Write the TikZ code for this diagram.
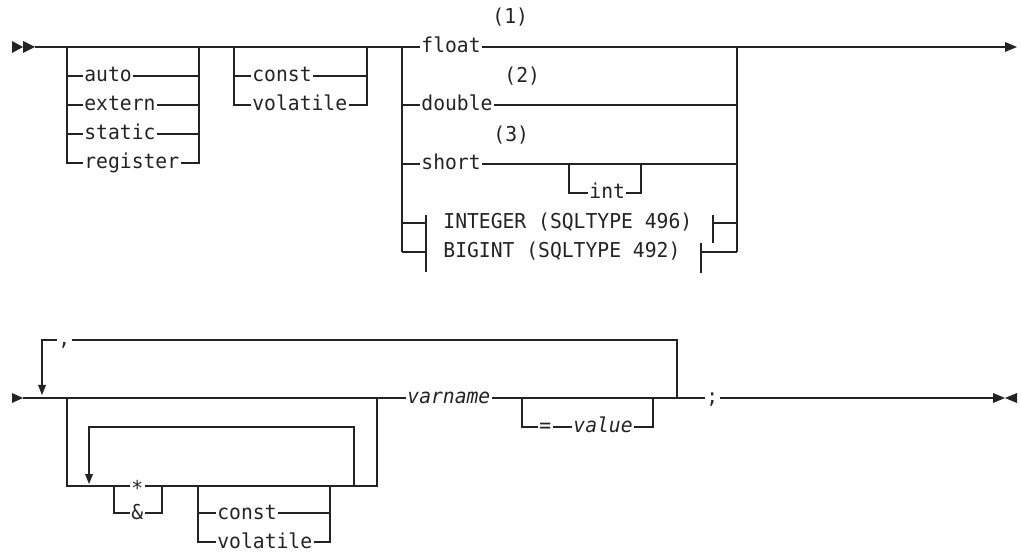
\documentclass[tikz,border=0pt]{standalone}
\usepackage{fontspec}
\newfontfamily\kwfont[FakeStretch=0.96]{DejaVu Sans Mono}
\definecolor{ink}{RGB}{35,35,35}
\begin{document}
\begin{tikzpicture}[x=1pt,y=-1pt,
  rr/.style={draw=ink,line width=1.4pt},
  kw/.style={font={\kwfont\fontsize{20.5}{22}\selectfont}, text=ink, inner xsep=1.2pt, inner ysep=0pt, text height=15pt, text depth=3pt, anchor=west},
  vi/.style={kw, font={\kwfont\itshape\fontsize{20.5}{22}\selectfont}},
  tipfill/.style={fill=ink, draw=none}]
\useasboundingbox (0,0) rectangle (1021,553);

% ---------------- first line ----------------
\coordinate (s0) at (35,47);
\coordinate (e0) at (1005,47);
\fill[tipfill] (12,41) -- (23,47) -- (12,53) -- cycle;
\fill[tipfill] (23,41) -- (35,47) -- (23,53) -- cycle;
\fill[tipfill] (1005,42) -- (1017,47) -- (1005,52) -- cycle;

% storage class
\coordinate (b1l) at (67,47);
\coordinate (b1r) at (199,47);
\node[kw] (auto) at (83,76) {auto};
\node[kw] (extern) at (83,105) {extern};
\node[kw] (static) at (83,134) {static};
\node[kw] (register) at (83,163) {register};
\draw[rr] (b1l) |- (register.west);
\draw[rr] (register.east) -| (b1r);
\foreach \n in {auto,extern,static}{
  \draw[rr] (b1l|-\n.west) -- (\n.west);
  \draw[rr] (\n.east) -- (b1r|-\n.east);
}

% qualifiers
\coordinate (b2l) at (234,47);
\coordinate (b2r) at (367,47);
\node[kw] (const) at (251,76) {const};
\node[kw] (volatile) at (251,105) {volatile};
\draw[rr] (b2l) |- (volatile.west);
\draw[rr] (volatile.east) -| (b2r);
\draw[rr] (b2l|-const.west) -- (const.west);
\draw[rr] (const.east) -- (b2r|-const.east);

% types
\coordinate (b3l) at (402,47);
\coordinate (b3r) at (737,47);
\node[kw] (float) at (420,47) {float};
\node[kw] (double) at (420,105) {double};
\node[kw] (short) at (420,164) {short};
\node[kw] (n1) at (491,18) {(1)};
\node[kw] (n2) at (503,76.5) {(2)};
\node[kw] (n3) at (492,135.5) {(3)};
\draw[rr] (s0) -- (float.west);
\draw[rr] (float.east) -- (e0);
\draw[rr] (b3l) -- (402,252);
\draw[rr] (b3r) -- (737,252);
\draw[rr] (b3l|-double.west) -- (double.west);
\draw[rr] (double.east) -- (b3r|-double.east);
\draw[rr] (b3l|-short.west) -- (short.west);
\draw[rr] (short.east) -- (b3r|-short.east);

% int option
\coordinate (il) at (569,164);
\coordinate (ir) at (641,164);
\node[kw] (int) at (588,193) {int};
\draw[rr] (il) |- (int.west);
\draw[rr] (int.east) -| (ir);

% fragments
\node[kw] (integer) at (442,223) {INTEGER (SQLTYPE 496)};
\node[kw] (bigint) at (442,252) {BIGINT (SQLTYPE 492)};
\coordinate (fb1) at (426,215);
\coordinate (fb2) at (426,272);
\draw[rr] (fb1) -- (fb2);
\draw[rr] (402,223) -- (fb1|-integer.west);
\draw[rr] (402,252) -- (fb1|-bigint.west);
\coordinate (ib1) at (713,215);
\coordinate (ib2) at (713,243);
\draw[rr] (ib1) -- (ib2);
\draw[rr] (ib1|-integer.east) -- (737,223);
\coordinate (bb1) at (701,243);
\coordinate (bb2) at (701,273);
\draw[rr] (bb1) -- (bb2);
\draw[rr] (bb1|-bigint.east) -- (737,252);

% ---------------- second line ----------------
\coordinate (s1) at (23,398);
\coordinate (e1) at (993,398);
\fill[tipfill] (12,393) -- (23,398) -- (12,403) -- cycle;
\fill[tipfill] (993,393) -- (1005,398) -- (993,403) -- cycle;
\fill[tipfill] (1017,393) -- (1005,398) -- (1017,403) -- cycle;

\node[vi] (varname) at (406,398) {varname};
\node[kw] (semi) at (705,398) {;};
\draw[rr] (s1) -- (varname.west);
\draw[rr] (varname.east) -- (semi.west);
\draw[rr] (semi.east) -- (e1);

% comma repeat loop
\node[kw] (comma) at (57,340) {,};
\coordinate (cr) at (677,398);
\coordinate (cl) at (42,386);
\draw[rr] (cr) |- (comma.east);
\draw[rr] (comma.west) -| (cl);
\fill[tipfill] (38,385) -- (46,385) -- (42,395) -- cycle;

% pointer / reference group
\coordinate (aL) at (67,398);
\coordinate (aR) at (377,398);
\node[kw, text height=20pt, text depth=2pt] (star) at (130,486) {*};
\node[kw] (amp) at (130,513) {\&};
\draw[rr] (aL) |- (star.west);
\draw[rr] (star.east) -| (aR);
\coordinate (pl) at (114,486);
\coordinate (pr) at (162,486);
\draw[rr] (pl) |- (amp.west);
\draw[rr] (amp.east) -| (pr);
% inner repeat loop
\coordinate (lr) at (354,486);
\coordinate (ll) at (89,474);
\draw[rr] (lr) -- (354,427) -| (ll);
\fill[tipfill] (85,474) -- (93,474) -- (89,484) -- cycle;
% const / volatile
\coordinate (ql) at (198,486);
\coordinate (qr) at (330,486);
\node[kw] (const2) at (216,513) {const};
\node[kw] (volatile2) at (216,542) {volatile};
\draw[rr] (ql) |- (volatile2.west);
\draw[rr] (volatile2.east) -| (qr);
\draw[rr] (ql|-const2.west) -- (const2.west);
\draw[rr] (const2.east) -- (qr|-const2.east);

% = value
\coordinate (vl) at (522,398);
\coordinate (vr) at (653,398);
\node[kw] (eq) at (538,427) {=};
\node[vi] (value) at (572,427) {value};
\draw[rr] (vl) |- (eq.west);
\draw[rr] (eq.east) -- (value.west);
\draw[rr] (value.east) -| (vr);
\end{tikzpicture}
\end{document}
